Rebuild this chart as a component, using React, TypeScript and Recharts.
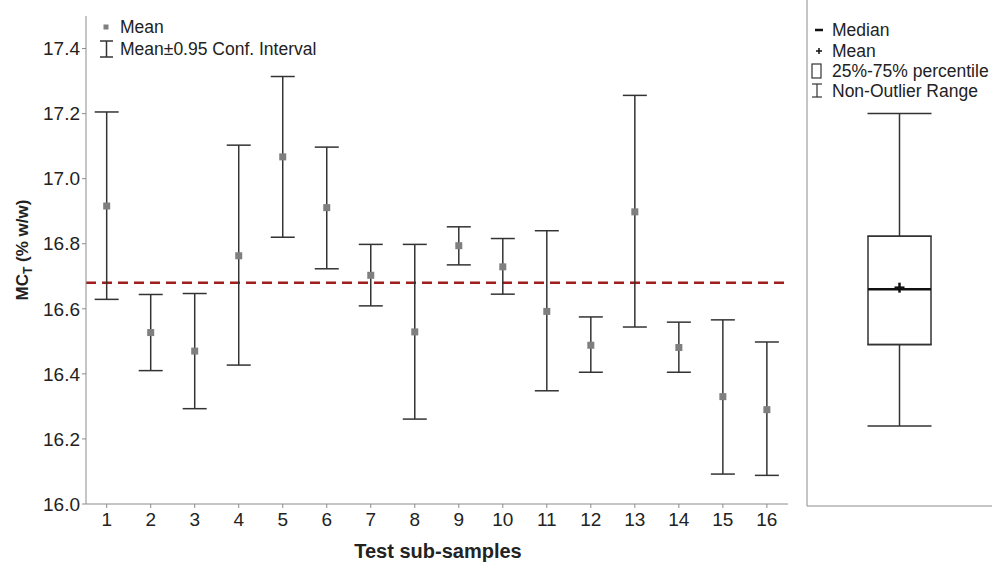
import React from "react";
import {
  ComposedChart,
  Scatter,
  Bar,
  XAxis,
  YAxis,
  ErrorBar,
  ReferenceLine,
} from "recharts";

// test sub-samples: mean and 0.95 confidence interval
const samples = [1, 2, 3, 4, 5, 6, 7, 8, 9, 10, 11, 12, 13, 14, 15, 16];
const means = [16.916, 16.527, 16.47, 16.763, 17.067, 16.911, 16.703, 16.529, 16.794, 16.729, 16.592, 16.488, 16.898, 16.481, 16.33, 16.29];
const ciLow = [16.629, 16.41, 16.293, 16.427, 16.82, 16.723, 16.609, 16.261, 16.735, 16.645, 16.348, 16.405, 16.544, 16.405, 16.092, 16.088];
const ciHigh = [17.205, 16.644, 16.647, 17.103, 17.314, 17.097, 16.798, 16.798, 16.852, 16.816, 16.84, 16.575, 17.256, 16.559, 16.566, 16.498];
const yTicks = [16.0, 16.2, 16.4, 16.6, 16.8, 17.0, 17.2, 17.4];
const grandMean = 16.68;

// overall box plot
const boxMin = 16.24;
const boxQ1 = 16.49;
const boxMedian = 16.66;
const boxMean = 16.665;
const boxQ3 = 16.823;
const boxMax = 17.2;

const FONT = "'Liberation Sans', Arial, sans-serif";
const AXIS = "#8c8c8c";
const INK = "#333";

const pointData = samples.map((s, i) => ({
  x: s,
  mean: means[i],
  err: [means[i] - ciLow[i], ciHigh[i] - means[i]],
}));

const boxData = [
  {
    name: "all",
    range: [boxQ1, boxQ3],
    q1: boxQ1,
    q3: boxQ3,
    mean: boxMean,
    lowErr: [boxQ1 - boxMin, 0],
    highErr: [0, boxMax - boxQ3],
  },
];

const MeanSquare = (p: any) => (
  <rect x={p.cx - 3.5} y={p.cy - 3.5} width={7} height={7} fill="#7f7f7f" />
);

const Nothing = () => <g />;

const PlusMark = (p: any) => (
  <g stroke="#111" strokeWidth={2.5}>
    <line x1={p.cx - 5} y1={p.cy} x2={p.cx + 5} y2={p.cy} />
    <line x1={p.cx} y1={p.cy - 5} x2={p.cx} y2={p.cy + 5} />
  </g>
);

const BoxShape = (p: any) => {
  const top = Math.min(p.y, p.y + p.height);
  const h = Math.abs(p.height);
  const my = top + (h * (boxQ3 - boxMedian)) / (boxQ3 - boxQ1);
  return (
    <g>
      <rect x={p.x} y={top} width={p.width} height={h} fill="#fff" stroke={INK} strokeWidth={1.5} />
      <line x1={p.x} y1={my} x2={p.x + p.width} y2={my} stroke="#111" strokeWidth={2.5} />
    </g>
  );
};

export default function App() {
  return (
    <div style={{ position: "absolute", left: 0, top: 0, width: 992, height: 565, background: "#fff", fontFamily: FONT }}>
      <div style={{ position: "absolute", left: 0, top: 0 }}>
        <ComposedChart width={800} height={565} data={pointData} margin={{ top: 16, right: 12, bottom: 31, left: 26 }}>
          <XAxis
            dataKey="x"
            type="number"
            domain={[0.53, 16.48]}
            ticks={samples}
            allowDataOverflow
            interval={0}
            stroke={AXIS}
            tickSize={4}
            tickMargin={5}
            height={30}
            tick={{ fill: "#222", fontSize: 19, fontFamily: FONT }}
          />
          <YAxis
            type="number"
            domain={[16, 17.5]}
            ticks={yTicks}
            allowDataOverflow
            width={60}
            stroke={AXIS}
            tickSize={4}
            tickFormatter={(v: number) => v.toFixed(1)}
            tick={{ fill: "#222", fontSize: 19, fontFamily: FONT }}
          />
          <ReferenceLine y={grandMean} stroke="#a01e1e" strokeWidth={2.5} strokeDasharray="10 6" />
          <Scatter dataKey="mean" shape={MeanSquare} isAnimationActive={false}>
            <ErrorBar dataKey="err" direction="y" width={12} stroke={INK} strokeWidth={1.5} isAnimationActive={false} />
          </Scatter>
        </ComposedChart>
      </div>

      <div style={{ position: "absolute", left: 747, top: 0 }}>
        <ComposedChart width={245} height={565} data={boxData} margin={{ top: 0, right: 0, bottom: 29, left: 0 }}>
          <XAxis dataKey="name" stroke={AXIS} tick={false} tickLine={false} height={30} />
          <YAxis type="number" domain={[15.994, 17.549]} allowDataOverflow width={60} stroke={AXIS} tick={false} tickLine={false} />
          <Bar dataKey="range" barSize={63} shape={BoxShape} isAnimationActive={false} />
          <Scatter dataKey="q3" shape={Nothing} isAnimationActive={false}>
            <ErrorBar dataKey="highErr" direction="y" width={32} stroke={INK} strokeWidth={1.5} isAnimationActive={false} />
          </Scatter>
          <Scatter dataKey="q1" shape={Nothing} isAnimationActive={false}>
            <ErrorBar dataKey="lowErr" direction="y" width={32} stroke={INK} strokeWidth={1.5} isAnimationActive={false} />
          </Scatter>
          <Scatter dataKey="mean" shape={PlusMark} isAnimationActive={false} />
        </ComposedChart>
      </div>

      <svg width={992} height={565} style={{ position: "absolute", left: 0, top: 0, pointerEvents: "none" }}>
        <g fontFamily={FONT} fill="#222">
          {/* axis titles */}
          <text transform="translate(28,250) rotate(-90)" textAnchor="middle" fontWeight="bold" fontSize={17}>
            MC<tspan fontSize={12} dy={4}>T</tspan>
            <tspan dy={-4}> (% w/w)</tspan>
          </text>
          <text x={438} y={558} textAnchor="middle" fontWeight="bold" fontSize={20}>
            Test sub-samples
          </text>

          {/* left legend */}
          <rect x={103.5} y={24.5} width={5} height={5} fill="#7f7f7f" />
          <text x={120} y={33} fontSize={17.5}>Mean</text>
          <g stroke={INK} strokeWidth={1.5}>
            <line x1={100} y1={41} x2={113} y2={41} />
            <line x1={106.5} y1={41} x2={106.5} y2={57} />
            <line x1={100} y1={57} x2={113} y2={57} />
          </g>
          <text x={120} y={55} fontSize={17.5}>Mean±0.95 Conf. Interval</text>

          {/* right legend */}
          <line x1={815} y1={30} x2={823} y2={30} stroke="#111" strokeWidth={2.5} />
          <text x={832} y={36} fontSize={17.5}>Median</text>
          <g stroke="#111" strokeWidth={1.5}>
            <line x1={816} y1={51} x2={822} y2={51} />
            <line x1={819} y1={48} x2={819} y2={54} />
          </g>
          <text x={832} y={57} fontSize={17.5}>Mean</text>
          <rect x={812} y={64} width={9} height={14} fill="none" stroke={INK} strokeWidth={1.2} />
          <text x={832} y={77} fontSize={17.5}>25%-75% percentile</text>
          <g stroke={INK} strokeWidth={1.2}>
            <line x1={812} y1={84} x2={822} y2={84} />
            <line x1={817} y1={84} x2={817} y2={97} />
            <line x1={812} y1={97} x2={822} y2={97} />
          </g>
          <text x={832} y={97} fontSize={17.5}>Non-Outlier Range</text>
        </g>
      </svg>
    </div>
  );
}
